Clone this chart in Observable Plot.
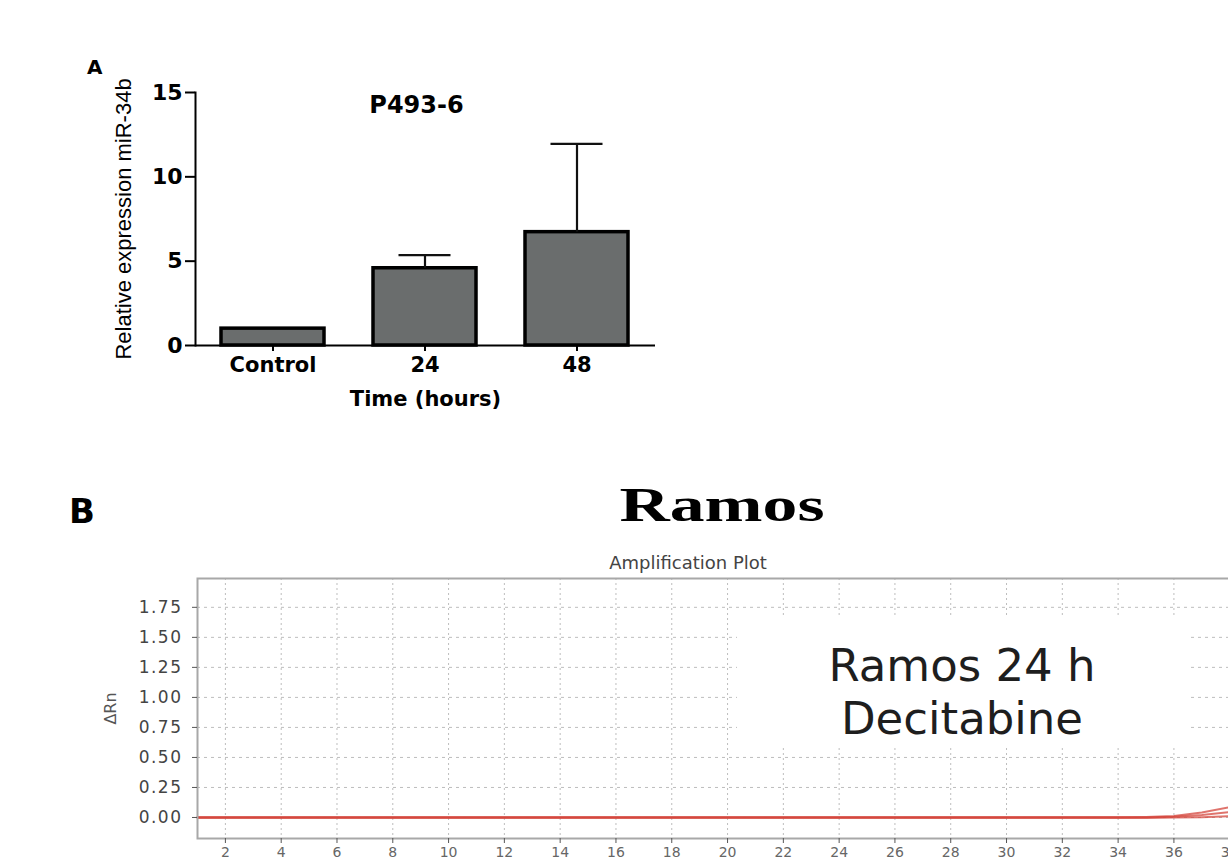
<!DOCTYPE html>
<html><head><meta charset="utf-8">
<script src="https://cdn.jsdelivr.net/npm/d3@7"></script>
<script src="https://cdn.jsdelivr.net/npm/@observablehq/plot@0.6"></script>
<style>
html,body{margin:0;padding:0;background:#fff;}
#wrap{position:relative;width:1228px;height:861px;overflow:hidden;background:#fff;}
.abs{position:absolute;white-space:nowrap;line-height:1;}
#plotA,#plotB{position:absolute;left:0;}
#plotA{top:0;width:700px;}
#plotB{top:540px;width:1300px;}
#plotA svg,#plotB svg{max-width:none !important;}
.plotA g[aria-label="y-axis label"] text{font-weight:normal;font-family:"Liberation Sans",Arial,sans-serif;font-size:22px;}
.plotB g[aria-label="y-axis tick label"] text{letter-spacing:1.5px;}
.plotB g[aria-label="y-axis label"] text{font-size:16px;fill:#555;}
.note{position:absolute;white-space:nowrap;line-height:1;font:45px 'DejaVu Sans';color:#1e1e1e;transform:translateX(-50%);}
</style></head><body>
<div id="wrap">
  <div id="plotA"></div>
  <div id="plotB"></div>
  <div class="abs" style="left:87px;top:55px;font:bold 20px 'DejaVu Sans';">A</div>
  <div class="abs" style="left:69px;top:491px;font:bold 34px 'DejaVu Sans';">B</div>
  <div class="abs" style="left:722px;top:477px;font:bold 48px 'Liberation Serif';transform:translateX(-50%) scaleX(1.45);transform-origin:50% 50%;">Ramos</div>
  <div class="abs" style="left:688px;top:552px;font:18px 'DejaVu Sans';color:#444;transform:translateX(-50%);">Amplification Plot</div>
  <div class="abs" style="left:737px;top:615px;width:450px;height:130px;background:#fff;"></div>
  <div class="note" style="left:962px;top:639px;">Ramos 24 h</div>
  <div class="note" style="left:962px;top:692px;">Decitabine</div>
</div>
<script>
// Panel A: relative expression of miR-34b in P493-6
const categories = ["Control", "24", "48"];
const meanExpr = [1.0, 4.58, 6.72];
const upperExpr = [1.0, 5.36, 11.95];
const yTicksA = [0, 5, 10, 15];

// Panel B: amplification plot, Ramos 24 h decitabine (delta Rn per cycle)
const cycles = [1,2,3,4,5,6,7,8,9,10,11,12,13,14,15,16,17,18,19,20,21,22,23,24,25,26,27,28,29,30,31,32,33,34,35,36,37,38,39,40];
const rep1 = [0.004,0.004,0.004,0.004,0.004,0.004,0.004,0.004,0.004,0.004,0.004,0.004,0.004,0.004,0.004,0.004,0.004,0.004,0.004,0.004,0.004,0.004,0.004,0.004,0.004,0.004,0.004,0.004,0.004,0.004,0.004,0.004,0.004,0.004,0.005,0.013,0.042,0.085,0.15,0.23];
const rep2 = [0,0,0,0,0,0,0,0,0,0,0,0,0,0,0,0,0,0,0,0,0,0,0,0,0,0,0,0,0,0,0,0,0,0,0.001,0.007,0.02,0.045,0.08,0.12];
const rep3 = [-0.004,-0.004,-0.004,-0.004,-0.004,-0.004,-0.004,-0.004,-0.004,-0.004,-0.004,-0.004,-0.004,-0.004,-0.004,-0.004,-0.004,-0.004,-0.004,-0.004,-0.004,-0.004,-0.004,-0.004,-0.004,-0.004,-0.004,-0.004,-0.004,-0.004,-0.004,-0.004,-0.004,-0.004,-0.004,-0.001,0.002,0.01,0.02,0.03];
const xTicksB = [2,4,6,8,10,12,14,16,18,20,22,24,26,28,30,32,34,36,38,40];
const yTicksB = [0, 0.25, 0.5, 0.75, 1.0, 1.25, 1.5, 1.75];

const barData = categories.map((c, i) => ({cat: c, mean: meanExpr[i], upper: upperExpr[i]}));
const errData = barData.filter(d => d.upper > d.mean);

const plotA = Plot.plot({
  className: "plotA",
  width: 700, height: 430,
  marginTop: 92, marginBottom: 85, marginLeft: 195, marginRight: 45,
  style: {fontFamily: "DejaVu Sans", fontSize: "21px", fontWeight: "bold", color: "#000", background: "transparent", maxWidth: "none"},
  x: {domain: categories, paddingInner: 0.32, paddingOuter: 0.173},
  y: {domain: [0, 15]},
  marks: [
    Plot.barY(barData, {x: "cat", y: "mean", fill: "#6a6d6d", stroke: "#000", strokeWidth: 3.5}),
    Plot.ruleX(errData, {x: "cat", y1: "mean", y2: "upper", stroke: "#111", strokeWidth: 2.2}),
    Plot.tickY(errData, {x: "cat", y: "upper", stroke: "#111", strokeWidth: 2.2, insetLeft: 25.5, insetRight: 25.5}),
    Plot.ruleY([0], {stroke: "#000", strokeWidth: 2}),
    Plot.frame({anchor: "left", stroke: "#000", strokeWidth: 2}),
    Plot.axisY({ticks: yTicksA, tickSize: 10, tickPadding: 3, strokeWidth: 2, fontSize: 22,
      label: "Relative expression miR-34b", labelAnchor: "center", labelOffset: 80, labelArrow: "none"}),
    Plot.axisX({tickSize: 6, tickPadding: 6, strokeWidth: 2,
      label: "Time (hours)", labelAnchor: "center", labelOffset: 60, labelArrow: "none"}),
    Plot.text(["P493-6"], {frameAnchor: "top", lineAnchor: "top", dy: 3, dx: -9, fontSize: 24, fontWeight: "bold"})
  ]
});
document.getElementById("plotA").append(plotA);

const ampData = [];
[["1", rep1], ["2", rep2], ["3", rep3]].forEach(([name, vals]) => {
  cycles.forEach((c, i) => ampData.push({cycle: c, rn: vals[i], rep: name}));
});

const plotB = Plot.plot({
  className: "plotB",
  width: 1300, height: 330,
  marginTop: 38, marginBottom: 32, marginLeft: 197, marginRight: 15,
  style: {fontFamily: "DejaVu Sans", fontSize: "14px", color: "#555", background: "transparent", maxWidth: "none"},
  x: {domain: [1, 40]},
  y: {domain: [-0.175, 1.99]},
  marks: [
    Plot.gridX(xTicksB, {stroke: "#bdbdbd", strokeOpacity: 1, strokeDasharray: "2,3"}),
    Plot.gridY(yTicksB, {stroke: "#bdbdbd", strokeOpacity: 1, strokeDasharray: "3,4"}),
    Plot.line(ampData, {x: "cycle", y: "rn", z: "rep", stroke: "#d4463c", strokeWidth: 2, strokeOpacity: 0.75}),
    Plot.frame({stroke: "#a8a8a8", strokeWidth: 2}),
    Plot.axisY({ticks: yTicksB, tickFormat: ".2f", tickSize: 5, tickPadding: 10, fontSize: 17, fill: "#444",
      label: "ΔRn", labelAnchor: "center", labelOffset: 93, labelArrow: "none"}),
    Plot.axisX({ticks: xTicksB, tickSize: 5, tickPadding: 4, fontSize: 14, fill: "#666", label: null})
  ]
});
document.getElementById("plotB").append(plotB);
</script>
</body></html>
